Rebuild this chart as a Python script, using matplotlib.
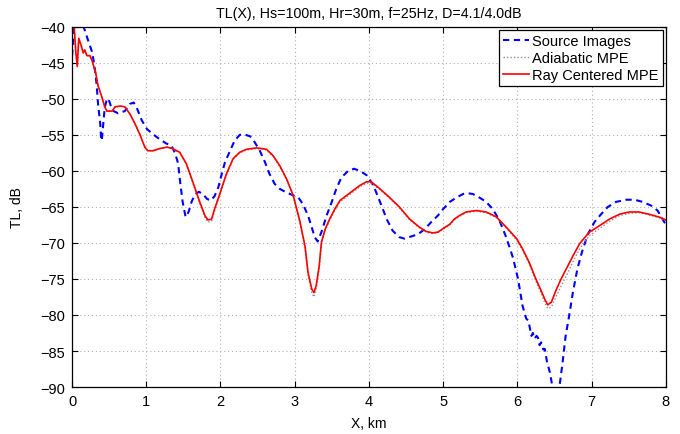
import matplotlib
matplotlib.use("Agg")
import matplotlib.pyplot as plt
from matplotlib import rcParams

rcParams["font.family"] = "sans-serif"
rcParams["font.sans-serif"] = ["Liberation Sans", "DejaVu Sans"]

TITLE = "TL(X), Hs=100m, Hr=30m, f=25Hz, D=4.1/4.0dB"

# Source images (blue dashed)
src_x = [0.00, 0.02, 0.04, 0.10, 0.15, 0.20, 0.24, 0.27, 0.29, 0.31, 0.33, 0.35,
         0.38, 0.39, 0.40, 0.42, 0.44, 0.47, 0.49, 0.52, 0.56, 0.62, 0.71, 0.78,
         0.83, 0.87, 0.94, 1.01, 1.09, 1.18, 1.27, 1.34, 1.39, 1.43, 1.45, 1.49,
         1.53, 1.57, 1.61, 1.66, 1.71, 1.77, 1.82, 1.87, 1.92, 1.97, 2.01, 2.06,
         2.13, 2.19, 2.26, 2.31, 2.40, 2.46, 2.53, 2.60, 2.66, 2.73, 2.80, 2.89,
         2.98, 3.05, 3.11, 3.18, 3.22, 3.27, 3.31, 3.36, 3.43, 3.50, 3.56, 3.63,
         3.72, 3.80, 3.88, 3.97, 4.06, 4.15, 4.24, 4.32, 4.41, 4.48, 4.57, 4.66,
         4.75, 4.84, 4.93, 5.00, 5.09, 5.18, 5.27, 5.33, 5.40, 5.49, 5.58, 5.67,
         5.76, 5.85, 5.94, 6.01, 6.07, 6.12, 6.15, 6.19, 6.21, 6.23, 6.26, 6.28,
         6.30, 6.32, 6.35, 6.37, 6.40, 6.44, 6.47, 6.50, 6.54, 6.57, 6.61, 6.65,
         6.70, 6.75, 6.81, 6.87, 6.95, 7.04, 7.13, 7.22, 7.33, 7.47, 7.58, 7.69,
         7.80, 7.89, 7.98, 8.00]
src_tl = [-44.0, -41.0, -38.5, -37.5, -39.8, -41.4, -42.6, -43.5, -44.7, -46.1, -47.9, -50.7,
          -53.5, -55.3, -55.8, -53.5, -51.2, -50.0, -50.0, -50.9, -51.7, -52.0, -51.7, -50.7,
          -50.5, -51.2, -53.0, -54.2, -54.9, -55.6, -56.2, -56.5, -57.6, -59.0, -61.0, -64.3,
          -66.4, -65.7, -64.3, -63.2, -62.9, -63.3, -63.9, -64.1, -63.5, -62.3, -60.7, -58.8,
          -57.2, -55.8, -55.0, -54.9, -55.2, -56.0, -57.2, -58.8, -60.4, -61.8, -62.5, -63.0,
          -63.4, -63.7, -64.6, -66.2, -67.5, -69.2, -69.8, -68.5, -66.2, -64.3, -62.5, -60.9,
          -60.0, -59.7, -60.0, -60.6, -62.0, -64.3, -66.7, -68.3, -69.2, -69.4, -69.1, -68.8,
          -68.1, -67.1, -66.2, -65.3, -64.3, -63.7, -63.2, -63.1, -63.2, -63.7, -64.3, -65.3,
          -66.9, -69.2, -72.0, -75.0, -78.7, -80.5, -80.8, -82.9, -82.5, -83.3, -82.9, -83.2,
          -84.2, -83.8, -84.8, -84.7, -86.5, -88.0, -89.8, -91.5, -92.0, -89.8, -86.6, -83.0,
          -80.0, -76.8, -73.6, -71.3, -68.8, -67.1, -66.0, -65.0, -64.3, -64.0, -64.0, -64.3,
          -64.8, -65.5, -67.1, -67.3]

# Ray centered MPE (red solid) and adiabatic MPE (grey dotted)
mpe_x = [0.00, 0.03, 0.05, 0.07, 0.09, 0.12, 0.15, 0.17, 0.20, 0.24, 0.27, 0.29,
         0.32, 0.35, 0.40, 0.44, 0.47, 0.54, 0.58, 0.65, 0.71, 0.78, 0.85, 0.92,
         0.98, 1.02, 1.09, 1.18, 1.28, 1.35, 1.45, 1.54, 1.63, 1.72, 1.79, 1.83,
         1.88, 1.92, 1.99, 2.08, 2.17, 2.26, 2.35, 2.49, 2.62, 2.71, 2.80, 2.89,
         2.98, 3.07, 3.14, 3.18, 3.23, 3.26, 3.29, 3.33, 3.36, 3.41, 3.47, 3.54,
         3.61, 3.70, 3.79, 3.88, 3.97, 4.03, 4.15, 4.28, 4.41, 4.55, 4.68, 4.77,
         4.86, 4.93, 5.00, 5.09, 5.15, 5.22, 5.31, 5.45, 5.58, 5.72, 5.85, 5.99,
         6.07, 6.16, 6.25, 6.32, 6.37, 6.41, 6.46, 6.52, 6.59, 6.66, 6.75, 6.84,
         6.97, 7.11, 7.24, 7.38, 7.51, 7.64, 7.77, 7.91, 8.00]
ray_tl = [-39.0, -40.2, -43.5, -45.5, -41.6, -42.5, -43.6, -43.2, -44.0, -44.0, -44.7, -45.4,
          -46.5, -48.2, -49.7, -51.1, -51.7, -51.7, -51.1, -51.0, -51.1, -52.1, -53.5, -55.1,
          -56.7, -57.2, -57.2, -56.9, -56.7, -56.9, -57.4, -59.0, -61.6, -64.3, -66.2, -66.8,
          -66.7, -65.3, -63.2, -60.4, -58.3, -57.4, -57.0, -56.8, -57.0, -57.9, -59.3, -61.1,
          -63.4, -67.0, -70.5, -74.1, -76.4, -76.9, -75.9, -73.2, -69.9, -68.1, -66.7, -65.3,
          -64.1, -63.4, -62.7, -62.0, -61.5, -61.5, -62.5, -63.7, -65.0, -66.7, -67.8, -68.4,
          -68.6, -68.5, -68.0, -67.4, -66.7, -66.2, -65.7, -65.5, -65.7, -66.4, -67.8, -69.4,
          -70.8, -72.7, -75.0, -76.6, -77.8, -78.6, -78.2, -76.6, -75.0, -73.6, -71.8, -70.1,
          -68.5, -67.6, -66.7, -66.0, -65.7, -65.7, -66.0, -66.4, -66.8]
adia_tl = [-39.0, -40.2, -43.5, -45.5, -41.6, -42.5, -43.6, -43.2, -44.0, -44.0, -44.7, -45.4,
           -46.5, -48.2, -49.7, -51.1, -51.7, -51.7, -51.1, -51.0, -51.1, -52.1, -53.5, -55.1,
           -56.7, -57.2, -57.2, -56.9, -56.7, -56.9, -57.5, -59.1, -61.8, -64.5, -66.5, -67.1,
           -67.0, -65.6, -63.4, -60.6, -58.4, -57.5, -57.1, -56.9, -57.1, -58.0, -59.4, -61.2,
           -63.6, -67.2, -70.8, -74.5, -76.9, -77.5, -76.4, -73.6, -70.2, -68.3, -66.9, -65.5,
           -64.3, -63.6, -62.9, -62.2, -61.7, -61.7, -62.6, -63.8, -65.1, -66.8, -67.9, -68.5,
           -68.7, -68.6, -68.1, -67.5, -66.8, -66.3, -65.8, -65.6, -65.8, -66.5, -67.9, -69.6,
           -71.0, -72.9, -75.3, -77.0, -78.3, -79.1, -78.9, -77.5, -76.0, -74.6, -72.6, -70.8,
           -69.0, -68.0, -67.0, -66.2, -65.9, -65.8, -66.1, -66.5, -66.9]

FONT_SIZE = 10


def main():
    fig = plt.figure(figsize=(6.8, 4.35), dpi=100)
    ax = fig.add_axes([0.106, 0.108, 0.873, 0.828])

    ax.plot(src_x, src_tl, color="#0000ff", linestyle=(0, (3, 2.2)), linewidth=1.5,
            label="Source Images")
    ax.plot(mpe_x, adia_tl, color="#909090", linestyle=(0, (1, 1.5)), linewidth=1.0,
            label="Adiabatic MPE")
    ax.plot(mpe_x, ray_tl, color="#ff0000", linewidth=1.2, label="Ray Centered MPE")

    ax.set_xlim(0, 8)
    ax.set_ylim(-90, -40)
    ax.set_xticks(range(0, 9))
    ax.set_yticks(range(-90, -39, 5))
    ax.grid(True, color="#b0b0b0", linestyle=(0, (1, 2.5)), linewidth=0.8)
    ax.tick_params(direction="in", top=True, right=True, labelsize=FONT_SIZE + 0.5,
                   length=4, pad=5)
    for s in ax.spines.values():
        s.set_linewidth(0.9)

    ax.set_title(TITLE, fontsize=FONT_SIZE + 0.3, pad=7)
    ax.set_xlabel("X, km", fontsize=FONT_SIZE, labelpad=6)
    ax.set_ylabel("TL, dB", fontsize=FONT_SIZE, labelpad=12)

    leg = ax.legend(loc="upper right", fontsize=FONT_SIZE + 0.5, fancybox=False,
                    framealpha=1, edgecolor="black", handlelength=1.8,
                    handletextpad=0.2, borderpad=0.3, labelspacing=0.2,
                    borderaxespad=0.2)
    leg.get_frame().set_linewidth(0.9)

    fig.savefig("out.png", dpi=100)
    plt.close(fig)


if __name__ == "__main__":
    main()
